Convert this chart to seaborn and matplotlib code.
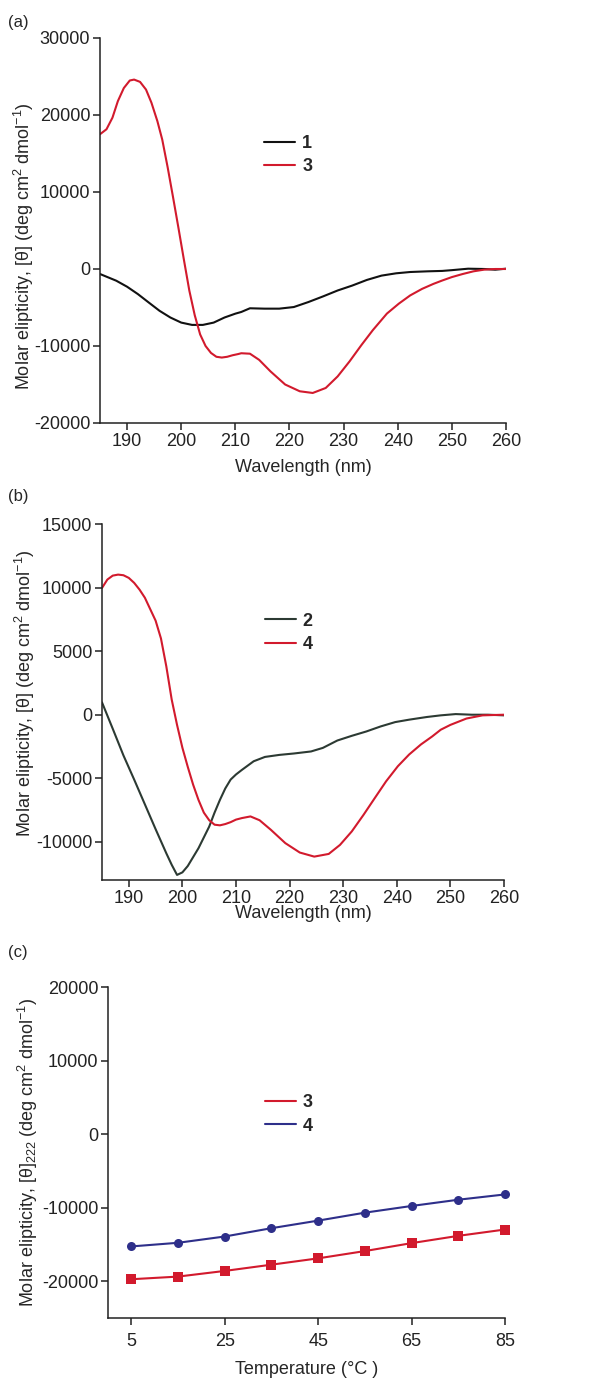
import pandas as pd
import matplotlib
matplotlib.use("Agg")
import matplotlib.pyplot as plt
import seaborn as sns

# ---- data ----
# (a) CD spectra, peptides 1 and 3
wl_a1 = [185, 188, 190, 192, 194, 196, 198, 200, 202, 204, 206, 208, 210, 211.1, 212.7,
         215.4, 218.1, 220.8, 223.5, 226.2, 228.9, 231.6, 234.3, 237, 239.7, 242.3, 245.6,
         248.2, 250, 253, 256, 258, 260]
cd_a1 = [-650, -1520, -2300, -3260, -4350, -5430, -6300, -6960, -7260, -7260, -6960, -6300,
         -5800, -5580, -5100, -5150, -5150, -4940, -4290, -3560, -2790, -2150, -1420, -860,
         -560, -390, -300, -250, -150, 40, 0, -90, 40]
wl_a3 = [185, 186.2, 187.3, 188.3, 189.4, 190.5, 191.3, 192.4, 193.5, 194.5, 195.6, 196.5,
         197.5, 198.5, 199.5, 200.5, 201.5, 202.5, 203.5, 204.5, 205.5, 206.5, 207.5, 208.5,
         209.5, 210.5, 211.1, 212.7, 214.4, 216.5, 219.2, 221.9, 224.3, 226.7, 228.9, 231.1,
         233.3, 235.4, 238, 240.2, 242.3, 244.5, 246.6, 248.2, 250, 252, 254, 256, 258, 260]
cd_a3 = [17500, 18150, 19650, 21800, 23500, 24480, 24600, 24300, 23300, 21600, 19200, 16800,
         13200, 9300, 5300, 1200, -2800, -6000, -8500, -10000, -10900, -11400, -11500,
         -11400, -11200, -11050, -10940, -11000, -11800, -13300, -15000, -15880, -16100,
         -15450, -13950, -12000, -9870, -7940, -5790, -4500, -3430, -2580, -1930, -1500,
         -1050, -650, -300, -80, 0, 0]

# (b) CD spectra, peptides 2 and 4
wl_b2 = [185, 187, 189, 191, 193, 195, 197, 198, 199, 200, 201, 203, 205, 206, 207, 208,
         209, 210, 211.1, 213.3, 215.4, 218.1, 220.8, 224, 226.2, 228.9, 231.6, 234.3, 237,
         239.7, 242.3, 245.6, 248.2, 251, 254, 257, 260]
cd_b2 = [970, -1100, -3200, -5100, -7050, -9000, -10900, -11800, -12600, -12400, -11900,
         -10500, -8800, -7700, -6700, -5800, -5100, -4700, -4340, -3660, -3320, -3160,
         -3050, -2890, -2610, -2030, -1660, -1320, -920, -580, -390, -180, -50, 50, 0, 0, -50]
wl_b4 = [185, 186, 187, 188, 189, 190, 191, 192, 193, 194, 195, 196, 197, 198, 199, 200,
         201, 202, 203, 204, 205, 206, 207, 208, 209, 210, 211.1, 212.7, 214.4, 216.5,
         219.2, 221.9, 224.6, 227.3, 229.4, 231.6, 233.8, 235.9, 238, 240.2, 242.3, 244.5,
         246.6, 248.2, 250, 253, 256, 260]
cd_b4 = [9970, 10630, 10940, 11020, 10970, 10760, 10370, 9840, 9200, 8300, 7400, 6000,
         3800, 1200, -800, -2600, -4100, -5500, -6700, -7700, -8300, -8650, -8700, -8600,
         -8450, -8250, -8130, -8000, -8300, -9050, -10100, -10840, -11160, -10950, -10240,
         -9180, -7870, -6550, -5240, -4050, -3130, -2340, -1710, -1180, -800, -300, -50, 0]

# (c) thermal melt at 222 nm
temps = [5, 15, 25, 35, 45, 55, 65, 75, 85]
melt_3 = [-19730, -19370, -18600, -17750, -16890, -15900, -14820, -13830, -12970]
melt_4 = [-15270, -14775, -13920, -12790, -11760, -10680, -9770, -8920, -8200]

RED = "#d21a2d"
BLACK = "#111111"
DKGREEN = "#2c3a33"
BLUE = "#2e2f8a"

sns.set_style("ticks")
plt.rcParams["font.family"] = ["Liberation Sans", "DejaVu Sans"]
plt.rcParams["mathtext.fontset"] = "custom"
plt.rcParams["mathtext.rm"] = "Liberation Sans"
plt.rcParams["mathtext.it"] = "Liberation Sans:italic"
plt.rcParams["mathtext.bf"] = "Liberation Sans:bold"
plt.rcParams["axes.unicode_minus"] = False
plt.rcParams["font.size"] = 13

fig = plt.figure(figsize=(6.05, 13.78), dpi=100)
ax_a = fig.add_axes([100/605, 1-423/1378, 406/605, 385/1378])
ax_b = fig.add_axes([102/605, 1-880/1378, 402/605, 356/1378])
ax_c = fig.add_axes([108/605, 1-1318/1378, 397/605, 331/1378])

ylab = "Molar elipticity, [θ] (deg cm$^2$ dmol$^{-1}$)"


def style_axes(ax):
    sns.despine(ax=ax)
    for s in ["left", "bottom"]:
        ax.spines[s].set_linewidth(1.1)
        ax.spines[s].set_color("#222222")
    ax.tick_params(direction="out", length=5, width=1.1, labelsize=13, colors="#222222", pad=2)


def add_legend(ax, x, y, handles=None, labels=None):
    kw = dict(loc="center left", bbox_to_anchor=(x, y), frameon=False,
              borderpad=0, borderaxespad=0, handlelength=1.7, handletextpad=0.4,
              labelspacing=0.35, prop={"weight": "bold", "size": 13})
    if handles is None:
        return ax.legend(**kw)
    return ax.legend(handles, labels, **kw)


# (a)
df_a1 = pd.DataFrame({"wl": wl_a1, "cd": cd_a1})
df_a3 = pd.DataFrame({"wl": wl_a3, "cd": cd_a3})
sns.lineplot(data=df_a1, x="wl", y="cd", ax=ax_a, color=BLACK, lw=1.5, label="1")
sns.lineplot(data=df_a3, x="wl", y="cd", ax=ax_a, color=RED, lw=1.5, label="3")
ax_a.set_xlim(185, 260)
ax_a.set_ylim(-20000, 30000)
ax_a.set_xticks(range(190, 261, 10))
ax_a.set_yticks(range(-20000, 30001, 10000))
ax_a.set_xlabel("Wavelength (nm)", fontsize=13, labelpad=7)
ax_a.set_ylabel(ylab, fontsize=13)
ax_a.yaxis.set_label_coords(-0.158, 0.46)
style_axes(ax_a)
add_legend(ax_a, 0.405, 0.696)

# (b)
df_b2 = pd.DataFrame({"wl": wl_b2, "cd": cd_b2})
df_b4 = pd.DataFrame({"wl": wl_b4, "cd": cd_b4})
sns.lineplot(data=df_b2, x="wl", y="cd", ax=ax_b, color=DKGREEN, lw=1.5, label="2")
sns.lineplot(data=df_b4, x="wl", y="cd", ax=ax_b, color=RED, lw=1.5, label="4")
ax_b.set_xlim(185, 260)
ax_b.set_ylim(-13000, 15000)
ax_b.set_xticks(range(190, 261, 10))
ax_b.set_yticks(range(-10000, 15001, 5000))
ax_b.set_xlabel("Wavelength (nm)", fontsize=13, labelpad=-1)
ax_b.set_ylabel(ylab, fontsize=13)
ax_b.yaxis.set_label_coords(-0.162, 0.525)
style_axes(ax_b)
add_legend(ax_b, 0.405, 0.694)

# (c)
df_c = pd.DataFrame({"T": temps * 2, "val": melt_3 + melt_4,
                     "pep": ["3"] * len(temps) + ["4"] * len(temps)})
sns.lineplot(data=df_c, x="T", y="val", hue="pep", style="pep", ax=ax_c,
             palette={"3": RED, "4": BLUE}, markers={"3": "s", "4": "o"}, dashes=False,
             lw=1.5, markersize=6.5, markeredgewidth=0, clip_on=False)
ax_c.set_xlim(0, 85)
ax_c.set_ylim(-25000, 20000)
ax_c.set_xticks(range(5, 86, 20))
ax_c.set_yticks(range(-20000, 20001, 10000))
ax_c.set_xlabel("Temperature (°C )", fontsize=13, labelpad=8)
ax_c.set_ylabel("Molar elipticity, [θ]$_{\\mathit{222}}$ (deg cm$^2$ dmol$^{-1}$)",
                fontsize=13)
ax_c.yaxis.set_label_coords(-0.171, 0.5)
style_axes(ax_c)
ax_c.tick_params(axis="x", pad=6)
handles = [plt.Line2D([], [], color=RED, lw=1.5), plt.Line2D([], [], color=BLUE, lw=1.5)]
add_legend(ax_c, 0.395, 0.615, handles, ["3", "4"])

fig.text(8/605, 1-22/1378, "(a)", fontsize=12, va="center", ha="left")
fig.text(8/605, 1-497/1378, "(b)", fontsize=12, va="center", ha="left")
fig.text(8/605, 1-953/1378, "(c)", fontsize=12, va="center", ha="left")

fig.savefig("out.png", dpi=100)
